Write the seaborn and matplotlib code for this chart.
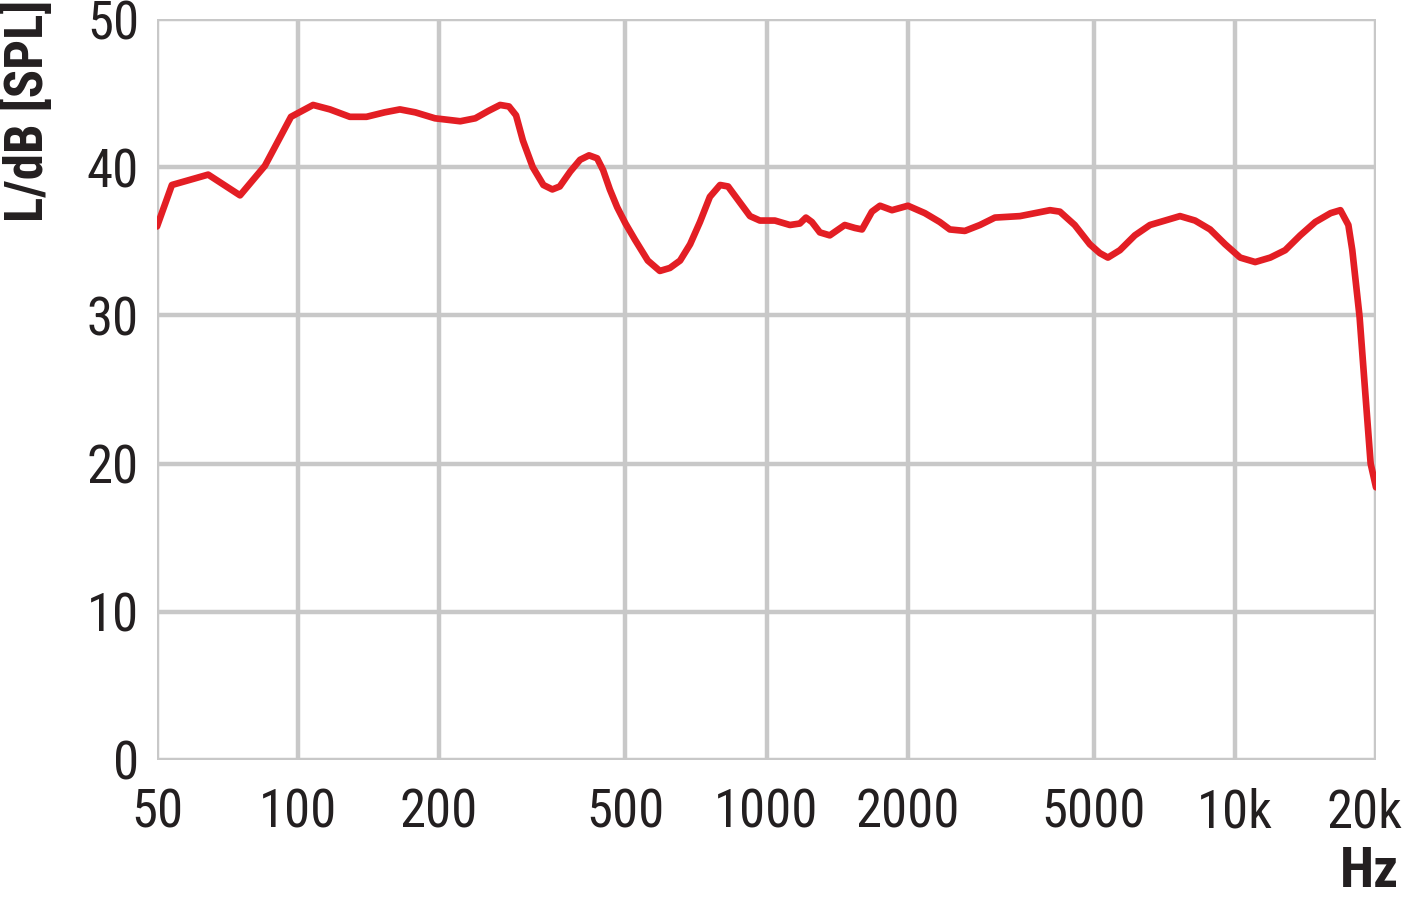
import numpy as np
import pandas as pd
import seaborn as sns
import matplotlib.pyplot as plt
import matplotlib.transforms as mtransforms

# frequency response (Hz, dB SPL)
freq = [50, 53.8, 64.3, 75.2, 85.0, 96.6, 107.7, 117, 129, 140, 153, 165, 178, 196,
        222, 239, 255, 270, 282, 292, 302, 317, 334, 349, 362, 381, 400, 418, 435, 448,
        463, 480, 500, 524, 558, 592, 622, 654, 687, 721, 757, 796, 828, 869, 922, 968,
        1042, 1122, 1178, 1214, 1250, 1300, 1365, 1469, 1544, 1599, 1679, 1747, 1853,
        2004, 2178, 2344, 2462, 2651, 2855, 3073, 3476, 4029, 4229, 4549, 4900, 5148,
        5355, 5680, 6113, 6585, 7091, 7633, 8219, 8849, 9528, 10260, 11045, 11893,
        12800, 13780, 14840, 16000, 16790, 17460, 17800, 18450, 18950, 19480, 20000]
level = [36.0, 38.8, 39.5, 38.1, 40.1, 43.4, 44.2, 43.9, 43.4, 43.4, 43.7, 43.9, 43.7, 43.3,
         43.1, 43.3, 43.8, 44.2, 44.1, 43.5, 41.8, 40.0, 38.8, 38.5, 38.7, 39.7, 40.5, 40.8, 40.6, 39.8,
         38.5, 37.3, 36.2, 35.1, 33.7, 33.0, 33.2, 33.7, 34.8, 36.3, 38.0, 38.8, 38.7, 37.8, 36.7, 36.4,
         36.4, 36.1, 36.2, 36.6, 36.3, 35.6, 35.4, 36.1, 35.9, 35.8, 37.0, 37.4, 37.1,
         37.4, 36.9, 36.3, 35.8, 35.7, 36.1, 36.6, 36.7, 37.1, 37.0, 36.1, 34.8, 34.2,
         33.9, 34.4, 35.4, 36.1, 36.4, 36.7, 36.4, 35.8, 34.8, 33.9, 33.6, 33.9,
         34.4, 35.4, 36.3, 36.9, 37.1, 36.1, 34.4, 29.9, 25.0, 20.0, 18.4]

xticks = [50, 100, 200, 500, 1000, 2000, 5000, 10000, 20000]
xticklabels = ["50", "100", "200", "500", "1000", "2000", "5000", "10k", "20k"]
yticks = [0, 10, 20, 30, 40, 50]

df = pd.DataFrame({"Hz": freq, "dB": level})

sns.set_style("white")
plt.rcParams['font.family'] = ['Roboto Condensed', 'DejaVu Sans']
plt.rcParams['font.stretch'] = 'condensed'

fig = plt.figure(figsize=(14.03, 8.98), dpi=100)
ax = fig.add_axes([157 / 1403, 1 - 760 / 898, (1376 - 157) / 1403, (760 - 19) / 898])

sns.lineplot(data=df, x="Hz", y="dB", ax=ax, color="#e31e24", linewidth=4.8, zorder=3)

ax.set_xscale("log")
ax.set_xlim(50, 20000)
ax.set_ylim(0, 50)
ax.set_xticks(xticks)
ax.set_xticklabels(xticklabels)
ax.minorticks_off()
ax.set_yticks(yticks)

ax.grid(True, color="#c8c8c8", linewidth=3.2)
for s in ax.spines.values():
    s.set_visible(False)
ax.tick_params(axis="both", length=0, labelsize=38, colors="#231f20")
ax.tick_params(axis="x", pad=20)
ax.tick_params(axis="y", pad=13)

# shift last x label left so it stays inside the figure
last = ax.get_xticklabels()[-1]
last.set_transform(last.get_transform() + mtransforms.ScaledTranslation(-8 / 72, 0, fig.dpi_scale_trans))

ax.set_xlabel("")
ax.set_ylabel("")
fig.text(0.0, 1.0, "L/dB [SPL]", rotation=90, ha="left", va="top",
         fontsize=38, fontweight="bold", color="#231f20")
fig.text(0.997, 0.0, "Hz", ha="right", va="bottom",
         fontsize=40, fontweight="bold", color="#231f20")

fig.savefig("out.png", dpi=100)
